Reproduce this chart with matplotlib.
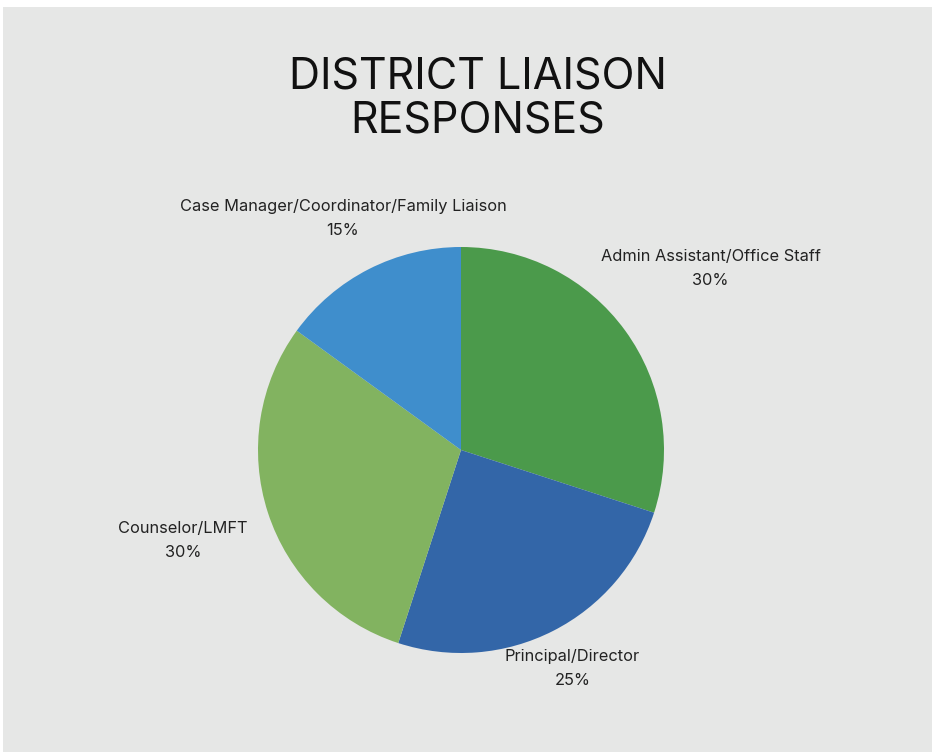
import matplotlib.pyplot as plt
import numpy as np
from matplotlib.patches import Rectangle

# data
roles = ["Admin Assistant/Office Staff", "Principal/Director",
         "Counselor/LMFT", "Case Manager/Coordinator/Family Liaison"]
shares = [30, 25, 30, 15]
colors = ["#4b9a4b", "#3366a8", "#82b360", "#3f8ecc"]
label_dist = [1.52, 1.21, 1.44, 1.28]

fig = plt.figure(figsize=(9.32, 7.52), dpi=100)
fig.patch.set_facecolor("white")
# grey panel
fig.patches.append(Rectangle((3 / 932, 0), 1, 1 - 7 / 752, transform=fig.transFigure,
                             facecolor="#e6e7e6", edgecolor="none", zorder=-1))

fig.text(478 / 932, 1 - 99 / 752, "DISTRICT LIAISON\nRESPONSES", ha="center", va="center",
         fontsize=31, family="Inter", color="#111111", linespacing=1.07)

# pie: center (461, 450), radius ~203 px
r = 203
ax = fig.add_axes([(461 - r) / 932, 1 - (450 + r) / 752, 2 * r / 932, 2 * r / 752], zorder=2)
ax.patch.set_visible(False)
wedges, _ = ax.pie(shares, colors=colors, startangle=90, counterclock=False,
                   wedgeprops=dict(linewidth=0))
ax.set_xlim(-1, 1)
ax.set_ylim(-1, 1)
ax.set_aspect("equal")

for w, role, s, d in zip(wedges, roles, shares, label_dist):
    ang = np.deg2rad((w.theta1 + w.theta2) / 2)
    ax.text(d * np.cos(ang), d * np.sin(ang), f"{role}\n{s}%", ha="center", va="center",
            fontsize=11.8, family="Inter", color="#222222", linespacing=1.75, clip_on=False)

fig.savefig("out.png", dpi=100)
